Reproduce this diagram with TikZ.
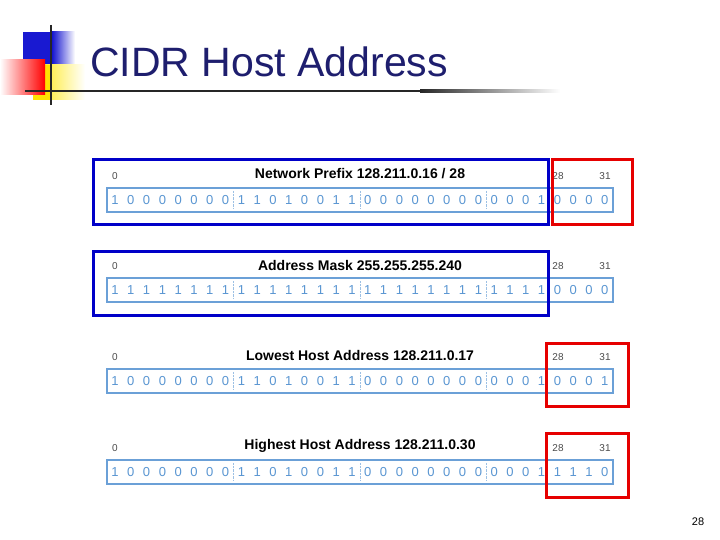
\documentclass[tikz,border=0pt]{standalone}
\usepackage{fontspec}
\setmainfont{Liberation Sans}
\usetikzlibrary{fadings}
\definecolor{bitc}{RGB}{90,150,210}
\definecolor{boxb}{RGB}{0,0,200}
\definecolor{boxr}{RGB}{230,0,0}
\tikzset{bitbox/.style={draw=bitc!90,line width=1.2pt},
 bit/.style={text=bitc,font=\fontsize{13}{13}\selectfont,inner sep=0pt},
 idx/.style={text=black!70,font=\fontsize{10}{10}\selectfont,inner sep=0pt},
 ttl/.style={font=\bfseries\fontsize{14}{14}\selectfont,inner sep=0pt},
 bluebox/.style={draw=boxb,line width=3pt},
 redbox/.style={draw=boxr,line width=3pt}}
\newcommand{\bitrow}[2]{%
 \draw[bitbox] (107,#1-12) rectangle (613,#1+12);
 \foreach \b [count=\i from 0] in {#2} {\node[bit] at (115+\i*15.8,#1) {\b};}
 \foreach \k in {1,2,3} {\draw[bitc!60,densely dotted] (115+\k*8*15.8-7.9,#1-9) -- (115+\k*8*15.8-7.9,#1+9);}
 \node[idx] at (115,#1-24) {0};
 \node[idx] at (558,#1-24) {28};
 \node[idx] at (605,#1-24) {31};}
\begin{document}
\begin{tikzpicture}[x=1pt,y=-1pt]
\useasboundingbox[fill=white] (0,0) rectangle (720,540);
% logo
\fill[blue!80!black!90] (23,32) rectangle (55,65);
\shade[left color=blue!80!black,right color=white] (50,32) rectangle (75,65);
\shade[left color=yellow!80!orange,right color=white] (33,65) rectangle (85,100);
\fill[yellow!85!orange] (33,65) rectangle (50,100);
\shade[left color=white,right color=red] (0,60) rectangle (45,95);
\draw[black!85,line width=2.5pt] (51,25) -- (51,105);
\draw[black!85,line width=2.5pt] (25,91) -- (420,91);
\shade[left color=black!85,right color=white] (420,89.8) rectangle (560,92.2);
\node[anchor=west,inner sep=0pt,text={rgb,255:red,30;green,30;blue,110}] (title) at (90,62) {\fontsize{41}{41}\selectfont CIDR Host Address};
% rows
\bitrow{200}{1,0,0,0,0,0,0,0,1,1,0,1,0,0,1,1,0,0,0,0,0,0,0,0,0,0,0,1,0,0,0,0}
\node[ttl] (t1) at (360,174) {Network Prefix 128.211.0.16 / 28};
\bitrow{290}{1,1,1,1,1,1,1,1,1,1,1,1,1,1,1,1,1,1,1,1,1,1,1,1,1,1,1,1,0,0,0,0}
\node[ttl] (t2) at (360,265) {Address Mask 255.255.255.240};
\bitrow{381}{1,0,0,0,0,0,0,0,1,1,0,1,0,0,1,1,0,0,0,0,0,0,0,0,0,0,0,1,0,0,0,1}
\node[ttl] (t3) at (360,355) {Lowest Host Address 128.211.0.17};
\bitrow{472}{1,0,0,0,0,0,0,0,1,1,0,1,0,0,1,1,0,0,0,0,0,0,0,0,0,0,0,1,1,1,1,0}
\node[ttl] (t4) at (360,446) {Highest Host Address 128.211.0.30};
\draw[bluebox] (93,160) rectangle (548,225);
\draw[bluebox] (93,251) rectangle (548,315);
\draw[redbox] (552,160) rectangle (632,225);
\draw[redbox] (546,343) rectangle (628,406);
\draw[redbox] (546,433) rectangle (628,497);
\node[font=\fontsize{11}{11}\selectfont] (pg) at (698,522) {28};
\end{tikzpicture}
\end{document}
